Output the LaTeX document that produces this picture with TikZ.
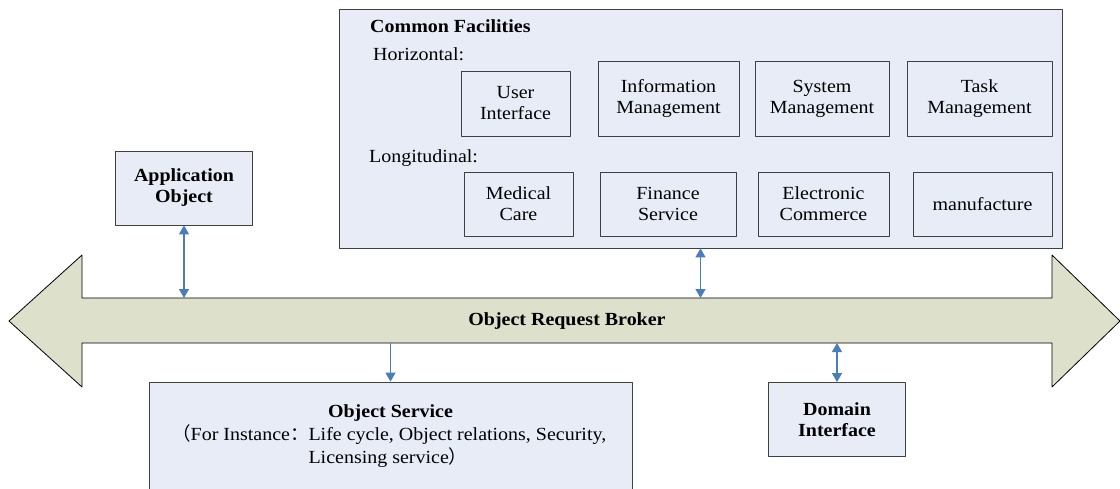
\documentclass[tikz,border=0pt]{standalone}
\usepackage{fontspec}
\setmainfont[FakeStretch=1.08]{Liberation Serif}
\newfontfamily\cjk{Noto Sans CJK SC}
\usetikzlibrary{arrows.meta}
\definecolor{boxfill}{RGB}{231,236,246}
\definecolor{orbfill}{RGB}{221,224,203}
\definecolor{linkblue}{RGB}{74,126,187}
\definecolor{boxline}{RGB}{64,64,64}

\begin{document}
\fontsize{18.5}{21}\selectfont
\begin{tikzpicture}[x=1pt,y=-1pt,join=round,
    box/.style={draw=boxline,fill=boxfill,line width=0.8pt,align=center,inner sep=0pt},
    sub/.style={draw=boxline,line width=0.8pt,align=center,inner sep=0pt},
    link/.style={draw=linkblue,line width=1.2pt},
    >={Triangle[width=10pt,length=9pt]}] % ORB architecture
  \clip (0,0) rectangle (1120,488);
  % broker arrow
  \filldraw[fill=orbfill,line width=0.8pt](9,321)--(82,255)--(82,298)--(1052,298)--(1052,255)--(1120,321)
     --(1052,387)--(1052,343)--(82,343)--(82,387)--cycle;
  \coordinate (shafttop) at (567,298);
  \coordinate (shaftbot) at (567,343);
  \node[font=\bfseries] (orb) at (567,321) {Object Request Broker};
  % common facilities
  \node[box,minimum width=723pt,minimum height=239pt] (cf) at (700.5,128.5) {};
  \node[font=\bfseries,anchor=base west,inner sep=0pt] (cftitle) at (370,32) {Common Facilities};
  \node[anchor=base west,inner sep=0pt] (horiz) at (373,60) {Horizontal:};
  \node[anchor=base west,inner sep=0pt] (longi) at (369,162) {Longitudinal:};
  \node[sub,minimum width=109pt,minimum height=65pt] (ui) at (515.5,103.5) {User\\Interface};
  \node[sub,minimum width=141pt,minimum height=75pt] (info) at (668.5,98.5) {Information\\Management};
  \node[sub,minimum width=134pt,minimum height=75pt] (sys) at (822,98.5) {System\\Management};
  \node[sub,minimum width=145pt,minimum height=75pt] (task) at (979.5,98.5) {Task\\Management};
  \node[sub,minimum width=109pt,minimum height=64pt] (med) at (518.5,204) {Medical\\Care};
  \node[sub,minimum width=136pt,minimum height=64pt] (fin) at (668,204) {Finance\\Service};
  \node[sub,minimum width=131pt,minimum height=64pt] (ecom) at (823.5,204) {Electronic\\Commerce};
  \node[sub,minimum width=139pt,minimum height=64pt] (manu) at (982.5,204) {manufacture};
  % objects around the broker
  \node[box,minimum width=137pt,minimum height=74pt,font=\bfseries] (app) at (184,188) {Application\\Object};
  \node[box,minimum width=137pt,minimum height=74pt,font=\bfseries] (dom) at (837,419.5) {Domain\\Interface};
  \node[box,minimum width=483pt,minimum height=108pt] (os) at (390.5,436) {};
  \node[font=\bfseries,anchor=base,inner sep=0pt] (ostitle) at (390.5,417) {Object Service};
  \node[font=\fontsize{18.5}{22.5}\selectfont,align=left,anchor=base west,inner sep=0pt] (osbody) at (172,463)
       {{\cjk （}For Instance{\cjk ：}Life cycle, Object relations, Security,\\
        \phantom{{\cjk （}For Instance{\cjk ：}}Licensing service{\cjk ）}};
  % links
  \draw[link,<->] (app.south) -- (app.south |- shafttop);
  \draw[link,<->] (cf.south) -- (cf.south |- shafttop);
  \draw[link,->] (os.north |- shaftbot) -- (os.north);
  \draw[link,<->] (dom.north |- shaftbot) -- (dom.north);
\end{tikzpicture}
\end{document}
